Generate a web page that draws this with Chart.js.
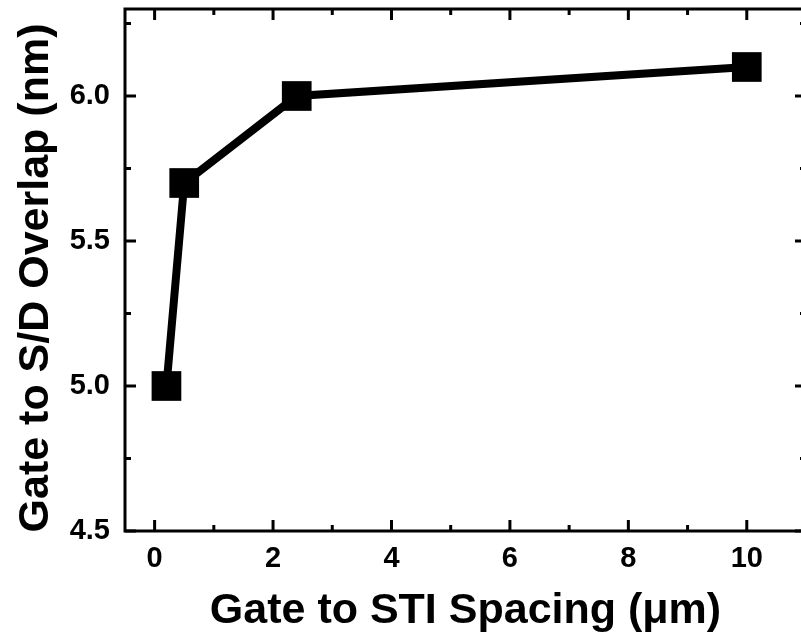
<!DOCTYPE html>
<html>
<head>
<meta charset="utf-8">
<script src="https://cdn.jsdelivr.net/npm/chart.js@4"></script>
<style>
  html, body { margin: 0; padding: 0; background: #fff; overflow: hidden; }
  #wrap { width: 810px; height: 636px; }
</style>
</head>
<body>
<div id="wrap"><canvas id="grafico" width="810" height="636"></canvas></div>
<script>
// espaçamento gate-STI (µm) e sobreposição gate-S/D (nm)
const espacamento = [0.2, 0.5, 2.4, 10];
const sobreposicao = [5.0, 5.7, 6.0, 6.1];

const xMajor = [0, 2, 4, 6, 8, 10];
const xMinor = [1, 3, 5, 7, 9];
const yMajor = [4.5, 5.0, 5.5, 6.0];
const yMinor = [4.75, 5.25, 5.75, 6.25];

const tituloX = 'Gate to STI Spacing (\u03bcm)';
const tituloY = 'Gate to S/D Overlap (nm)';

const fonte = 'Liberation Sans, Arial, sans-serif';

// moldura com marcas para dentro nos quatro lados + títulos dos eixos
const moldura = {
  id: 'moldura',
  afterDraw(chart) {
    const { ctx, chartArea: a, scales } = chart;
    const sx = scales.x, sy = scales.y;
    ctx.save();
    ctx.strokeStyle = '#000';
    ctx.lineWidth = 3;
    ctx.strokeRect(a.left, a.top, a.right - a.left, a.bottom - a.top);

    const marca = (x1, y1, x2, y2) => {
      ctx.beginPath();
      ctx.moveTo(x1, y1);
      ctx.lineTo(x2, y2);
      ctx.stroke();
    };
    const ticksX = (vals, len) => vals.forEach(v => {
      const px = sx.getPixelForValue(v);
      marca(px, a.bottom, px, a.bottom - len);
      marca(px, a.top, px, a.top + len);
    });
    const ticksY = (vals, len) => vals.forEach(v => {
      const py = sy.getPixelForValue(v);
      marca(a.left, py, a.left + len, py);
      marca(a.right, py, a.right - len, py);
    });
    ticksX(xMajor, 11);
    ticksX(xMinor, 6);
    ticksY(yMajor, 11);
    ticksY(yMinor, 6);

    ctx.fillStyle = '#000';
    ctx.textAlign = 'center';
    ctx.textBaseline = 'alphabetic';
    ctx.font = 'bold 43px ' + fonte;
    ctx.fillText(tituloX, (a.left + a.right) / 2, 623);

    ctx.translate(48, 278);
    ctx.rotate(-Math.PI / 2);
    ctx.fillText(tituloY, 0, 0);
    ctx.restore();
  }
};

const ctx = document.getElementById('grafico').getContext('2d');
window.graficoInstance = new Chart(ctx, {
  type: 'line',
  data: {
    datasets: [{
      data: espacamento.map((x, i) => ({ x, y: sobreposicao[i] })),
      borderColor: '#000',
      backgroundColor: '#000',
      borderWidth: 8,
      pointStyle: 'rect',
      pointRadius: 21,
      pointBorderWidth: 0,
      pointHoverRadius: 21,
      tension: 0,
      fill: false,
      clip: false
    }]
  },
  options: {
    responsive: false,
    animation: false,
    layout: { autoPadding: false, padding: { left: 0, top: 9, right: 4, bottom: 0 } },
    plugins: {
      legend: { display: false },
      tooltip: { enabled: false }
    },
    scales: {
      x: {
        type: 'linear',
        min: -0.5,
        max: 11,
        grid: { display: false, drawTicks: false },
        border: { display: false },
        afterBuildTicks: s => { s.ticks = xMajor.map(v => ({ value: v })); },
        afterFit: s => { s.height = 105; s.paddingLeft = 0; s.paddingRight = 0; },
        ticks: {
          padding: 11,
          color: '#000',
          font: { family: fonte, size: 29, weight: 'bold' },
          callback: v => String(v)
        }
      },
      y: {
        type: 'linear',
        min: 4.5,
        max: 6.3,
        grid: { display: false, drawTicks: false },
        border: { display: false },
        afterBuildTicks: s => { s.ticks = yMajor.map(v => ({ value: v })); },
        afterFit: s => { s.width = 125; s.paddingTop = 0; s.paddingBottom = 0; },
        ticks: {
          padding: 15,
          color: '#000',
          font: { family: fonte, size: 29, weight: 'bold' },
          callback: v => v.toFixed(1)
        }
      }
    }
  },
  plugins: [moldura]
});
</script>
</body>
</html>
